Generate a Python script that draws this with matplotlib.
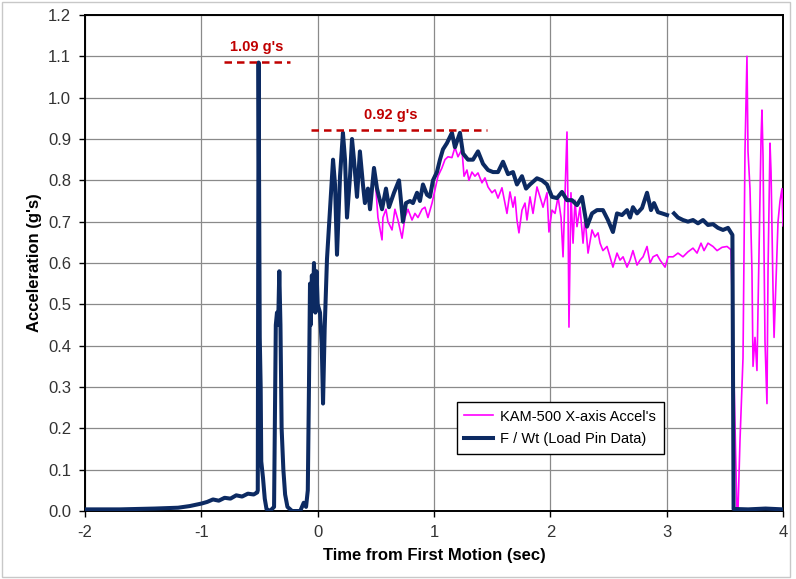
import numpy as np
import matplotlib
matplotlib.use("Agg")
import matplotlib.pyplot as plt
from matplotlib.patches import Rectangle

# ---------------- data ----------------
load_pin_t = [
    -2.0, -1.7, -1.4, -1.2, -1.1, -1.0, -0.95, -0.9, -0.85, -0.8, -0.75, -0.7, -0.65, -0.6, -0.55, -0.52,
    -0.515, -0.508, -0.498, -0.49, -0.485, -0.47, -0.455, -0.44, -0.41,
    -0.375, -0.36, -0.35, -0.34, -0.33, -0.32, -0.31, -0.295, -0.28, -0.26, -0.22, -0.15, -0.12,
    -0.10, -0.085, -0.075, -0.066, -0.06, -0.05, -0.04, -0.032, -0.02, -0.01, 0.0, 0.02, 0.035, 0.046, 0.06,
    0.080, 0.106, 0.132, 0.149, 0.166, 0.192, 0.217, 0.235, 0.252, 0.278, 0.295, 0.312, 0.338, 0.363,
    0.389, 0.406, 0.432, 0.450, 0.484, 0.510, 0.553, 0.587, 0.613, 0.656, 0.699, 0.733, 0.759, 0.794,
    0.819, 0.854, 0.879, 0.905, 0.940, 0.965, 0.991, 1.025, 1.051, 1.077, 1.111,
    1.154, 1.180, 1.223, 1.249, 1.292, 1.335, 1.378, 1.421, 1.464, 1.507, 1.550, 1.593, 1.636, 1.679,
    1.713, 1.756, 1.791, 1.825, 1.885, 1.928, 1.971, 2.014, 2.057, 2.100, 2.143, 2.186, 2.229, 2.272,
    2.315, 2.358, 2.401,
    2.452, 2.495, 2.538, 2.573, 2.616, 2.659, 2.685, 2.710, 2.745, 2.788, 2.831, 2.865, 2.891, 2.925,
    2.960, 3.003, 3.03, 3.063, 3.097, 3.140, 3.183, 3.226, 3.269, 3.312, 3.355, 3.398, 3.441, 3.484,
    3.527, 3.565, 3.575, 3.7, 3.85, 4.0,
]
load_pin_g = [
    0.004, 0.004, 0.006, 0.008, 0.012, 0.018, 0.022, 0.028, 0.025, 0.032, 0.030, 0.038, 0.035, 0.042, 0.040, 0.045,
    0.05, 1.085, 0.42, 0.30, 0.12, 0.08, 0.03, 0.005, 0.0,
    0.01, 0.45, 0.48, 0.45, 0.58, 0.45, 0.20, 0.10, 0.04, 0.01, 0.0, 0.0, 0.02,
    0.01, 0.05, 0.30, 0.55, 0.45, 0.57, 0.50, 0.60, 0.48, 0.58, 0.50, 0.48, 0.40, 0.26, 0.44,
    0.61, 0.73, 0.85, 0.79, 0.62, 0.81, 0.915, 0.85, 0.71, 0.81, 0.90, 0.85, 0.76, 0.87,
    0.79, 0.745, 0.78, 0.73, 0.83, 0.78, 0.73, 0.78, 0.735, 0.77, 0.80, 0.70, 0.745, 0.75,
    0.745, 0.77, 0.75, 0.79, 0.765, 0.76, 0.80, 0.82, 0.85, 0.875, 0.89,
    0.915, 0.88, 0.915, 0.865, 0.85, 0.85, 0.87, 0.84, 0.825, 0.82, 0.82, 0.845, 0.815, 0.82,
    0.79, 0.81, 0.78, 0.79, 0.805, 0.80, 0.79, 0.76, 0.757, 0.772, 0.752, 0.752, 0.74, 0.76,
    0.688, 0.72, 0.728,
    0.728, 0.704, 0.675, 0.72, 0.716, 0.728, 0.71, 0.735, 0.72, 0.733, 0.77, 0.728, 0.745, 0.723,
    0.72, 0.716, np.nan, 0.72, 0.71, 0.704, 0.70, 0.704, 0.696, 0.704, 0.692, 0.694, 0.685, 0.68,
    0.685, 0.668, 0.005, 0.004, 0.006, 0.004,
]

kam_t = [
    0.501, 0.518, 0.553, 0.561, 0.587, 0.604, 0.639, 0.664, 0.690, 0.725, 0.750, 0.776, 0.811, 0.836,
    0.862, 0.897, 0.922, 0.948, 0.983, 1.008, 1.034, 1.068, 1.094, 1.120,
    1.154, 1.180, 1.206, 1.240, 1.258, 1.283, 1.300, 1.326, 1.352, 1.378, 1.412, 1.438, 1.464, 1.498,
    1.524, 1.550, 1.584, 1.610, 1.627, 1.653, 1.679, 1.696, 1.713, 1.730, 1.756, 1.782, 1.799, 1.825,
    1.851, 1.885, 1.911, 1.937, 1.971, 1.988, 2.014, 2.040, 2.066, 2.092, 2.109, 2.126, 2.143, 2.152,
    2.160, 2.177, 2.195, 2.212, 2.229, 2.255, 2.281, 2.298, 2.324, 2.358, 2.384, 2.410,
    2.427, 2.452, 2.487, 2.513, 2.538, 2.573, 2.599, 2.625, 2.659, 2.685, 2.710, 2.745, 2.771, 2.797,
    2.831, 2.857, 2.883, 2.917, 2.943, 2.986, 3.012, 3.055, 3.097, 3.140, 3.183, 3.226, 3.261, 3.295,
    3.321, 3.355, 3.398, 3.433, 3.476, 3.519, 3.553,
    3.604, 3.613, 3.630, 3.656, 3.673, 3.690, 3.699, 3.716, 3.733, 3.742, 3.759, 3.776, 3.785, 3.811,
    3.819, 3.828, 3.845, 3.862, 3.871, 3.888, 3.897, 3.914, 3.923, 3.940, 3.957, 3.974, 3.991, 4.0,
]
kam_g = [
    0.777, 0.71, 0.656, 0.71, 0.73, 0.70, 0.68, 0.73, 0.704, 0.66, 0.71, 0.73, 0.704, 0.72,
    0.71, 0.73, 0.735, 0.71, 0.745, 0.777, 0.81, 0.83, 0.85, 0.857,
    0.855, 0.88, 0.857, 0.875, 0.81, 0.825, 0.80, 0.82, 0.81, 0.818, 0.794, 0.806, 0.784, 0.77,
    0.777, 0.757, 0.782, 0.745, 0.72, 0.772, 0.735, 0.76, 0.704, 0.673, 0.728, 0.745, 0.704, 0.76,
    0.72, 0.784, 0.76, 0.735, 0.77, 0.675, 0.728, 0.72, 0.76, 0.71, 0.615, 0.77, 0.917, 0.728,
    0.445, 0.77, 0.648, 0.752, 0.688, 0.735, 0.648, 0.71, 0.624, 0.68, 0.663, 0.673,
    0.648, 0.63, 0.64, 0.615, 0.59, 0.624, 0.607, 0.615, 0.59, 0.607, 0.63, 0.595, 0.607, 0.615,
    0.64, 0.60, 0.615, 0.62, 0.607, 0.59, 0.615, 0.615, 0.624, 0.615, 0.627, 0.636, 0.624, 0.648,
    0.63, 0.648, 0.64, 0.63, 0.638, 0.64, 0.632,
    0.0, 0.0, 0.17, 0.37, 0.87, 1.10, 0.87, 0.78, 0.58, 0.35, 0.42, 0.34, 0.49, 0.90,
    0.97, 0.86, 0.41, 0.26, 0.58, 0.89, 0.82, 0.535, 0.42, 0.56, 0.70, 0.75, 0.78, 0.69,
]

x_ticks = [-2, -1, 0, 1, 2, 3, 4]
y_ticks = [0.0, 0.1, 0.2, 0.3, 0.4, 0.5, 0.6, 0.7, 0.8, 0.9, 1.0, 1.1, 1.2]

peak1_label = "1.09 g's"
peak1_value = 1.087
peak1_span = [-0.804, -0.238]
peak2_label = "0.92 g's"
peak2_value = 0.922
peak2_span = [-0.058, 1.455]

# ---------------- figure ----------------
plt.rcParams['font.family'] = ['Liberation Sans', 'DejaVu Sans']
fig = plt.figure(figsize=(7.96, 5.79), dpi=100)
fig.patches.append(Rectangle((0.003, 0.003), 0.989, 0.994, transform=fig.transFigure,
                             fill=False, edgecolor='#c8c8c8', linewidth=1.0))
ax = fig.add_axes([0.1068, 0.1174, 0.8769, 0.8567])

navy = '#0c2a62'
magenta = '#ff00ff'
red = '#c00000'

ax.plot(kam_t, kam_g, color=magenta, linewidth=1.2, label="KAM-500 X-axis Accel's", zorder=3)
ax.plot(load_pin_t, load_pin_g, color=navy, linewidth=2.9, label="F / Wt (Load Pin Data)", zorder=4,
        solid_joinstyle='round')

ax.plot(peak1_span, [peak1_value, peak1_value], color=red, linewidth=1.8, dashes=(3, 2), zorder=5)
ax.plot(peak2_span, [peak2_value, peak2_value], color=red, linewidth=1.8, dashes=(3, 2), zorder=5)
ax.text(np.mean(peak1_span) + 0.0, peak1_value + 0.018, peak1_label, color=red, fontsize=10.5,
        fontweight='bold', ha='center', va='bottom')
ax.text(np.mean(peak2_span) - 0.07, peak2_value + 0.018, peak2_label, color=red, fontsize=10.5,
        fontweight='bold', ha='center', va='bottom')

ax.set_xlim(-2, 4)
ax.set_ylim(0, 1.2)
ax.set_xticks(x_ticks)
ax.set_xticklabels([str(v) for v in x_ticks])
ax.set_yticks(y_ticks)
ax.set_yticklabels([f"{v:.1f}" for v in y_ticks])
ax.grid(True, color='#8a8a8a', linewidth=0.9)
ax.set_axisbelow(True)
for s in ax.spines.values():
    s.set_color('black')
    s.set_linewidth(1.4)
ax.tick_params(axis='both', direction='out', length=4, width=1, labelsize=12,
               labelcolor='#333333', pad=6)

lab_font = dict(family=['Liberation Sans Narrow', 'Liberation Sans', 'DejaVu Sans'],
                fontweight='bold', fontsize=12)
ax.set_xlabel("Time from First Motion (sec)", labelpad=6, **lab_font)
ax.set_ylabel("Acceleration (g's)", labelpad=4, **lab_font)

leg = ax.legend(loc='upper left', bbox_to_anchor=(0.522, 0.234), fontsize=10.5, frameon=True,
                fancybox=False, edgecolor='black', framealpha=1, handlelength=2.0,
                borderpad=0.5, labelspacing=0.6, handletextpad=0.5)
leg.get_frame().set_linewidth(1.0)

fig.savefig("out.png", dpi=100)
